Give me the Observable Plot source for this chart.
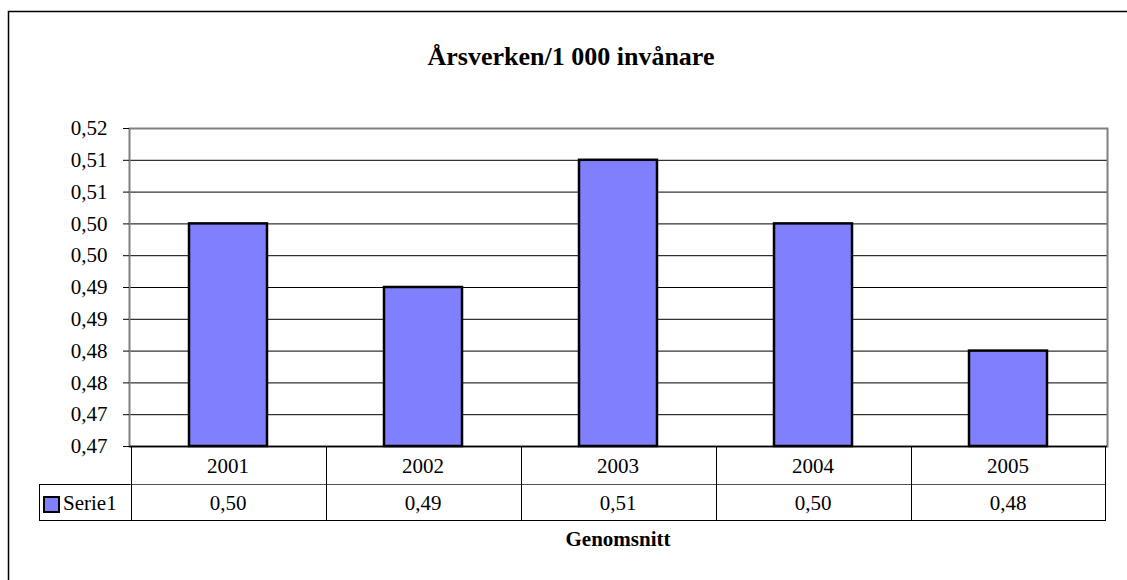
<!DOCTYPE html>
<html>
<head>
<meta charset="utf-8">
<script src="https://cdn.jsdelivr.net/npm/d3@7"></script>
<script src="https://cdn.jsdelivr.net/npm/@observablehq/plot@0.6"></script>
<style>
  html, body { margin: 0; padding: 0; background: #fff; }
  svg { display: block; }
</style>
</head>
<body>
<div id="chart"></div>
<script>
const years = ["2001", "2002", "2003", "2004", "2005"];
const values = [0.505, 0.495, 0.515, 0.505, 0.485];
const tableLabels = ["0,50", "0,49", "0,51", "0,50", "0,48"];
const seriesName = "Serie1";
const yTicks = [0.47, 0.475, 0.48, 0.485, 0.49, 0.495, 0.50, 0.505, 0.51, 0.515, 0.52];
const yTickLabels = ["0,47", "0,47", "0,48", "0,48", "0,49", "0,49", "0,50", "0,50", "0,51", "0,51", "0,52"];
const title = "Årsverken/1 000 invånare";
const xTitle = "Genomsnitt";

const data = years.map((y, i) => ({year: y, value: values[i], label: tableLabels[i]}));
const FONT = "'Liberation Serif', 'Times New Roman', Times, serif";
const FS = 21;
const yMin = 0.47, yMax = 0.52;

const chart = Plot.plot({
  width: 1127,
  height: 580,
  marginLeft: 129,
  marginRight: 20,
  marginTop: 128,
  marginBottom: 134,
  style: {fontFamily: FONT, fontSize: FS + "px", color: "#000", background: "#fff"},
  x: {type: "band", domain: years, paddingInner: 0.6, paddingOuter: 0.3, axis: null},
  y: {domain: [yMin, yMax], axis: null},
  marks: [
    Plot.gridY(yTicks, {stroke: "#000", strokeOpacity: 1, strokeWidth: 1}),
    Plot.frame({stroke: "#808080", strokeWidth: 2}),
    Plot.axisY(yTicks, {
      tickFormat: (d, i) => yTickLabels[i],
      tickSize: 6,
      tickPadding: 16,
      fontSize: FS,
      fontFamily: FONT,
      stroke: "#000",
      label: null
    }),
    Plot.barY(data, {x: "year", y1: yMin, y2: "value", fill: "#8080FF", stroke: "#000", strokeWidth: 2.5}),
    Plot.ruleY([yMin], {stroke: "#000", strokeWidth: 1.5})
  ]
});

document.getElementById("chart").appendChild(chart);

const svg = d3.select(chart);
const xs = chart.scale("x");
const ys = chart.scale("y");
const step = xs.step, bw = xs.bandwidth;
const colLeft = d => xs.apply(d) - (step - bw) / 2;
const left = colLeft(years[0]);
const right = colLeft(years[years.length - 1]) + step;
const y0 = ys.apply(yMin);
const row1 = y0 + 38;
const row2 = row1 + 36;
const legendLeft = 39;

// outer border
svg.append("path")
  .attr("d", `M8.5,${580 + 5}V11.5H${1127 + 5}`)
  .attr("fill", "none").attr("stroke", "#000").attr("stroke-width", 1.5);

// title
svg.append("text")
  .attr("x", 571).attr("y", 65)
  .attr("text-anchor", "middle")
  .attr("font-family", FONT).attr("font-weight", "bold").attr("font-size", 26)
  .attr("fill", "#000")
  .text(title);

// data table
const g = svg.append("g").attr("stroke", "#000").attr("stroke-width", 1);
g.append("line").attr("x1", left).attr("x2", right).attr("y1", row1 + 0.5).attr("y2", row1 + 0.5).attr("stroke", "#555");
g.append("line").attr("x1", legendLeft).attr("x2", left).attr("y1", row1 + 0.5).attr("y2", row1 + 0.5);
g.append("line").attr("x1", legendLeft).attr("x2", right).attr("y1", row2 + 0.5).attr("y2", row2 + 0.5);
g.append("line").attr("x1", legendLeft + 0.5).attr("x2", legendLeft + 0.5).attr("y1", row1).attr("y2", row2 + 1);
years.forEach(d => {
  const x = Math.round(colLeft(d)) + 0.5;
  g.append("line").attr("x1", x).attr("x2", x).attr("y1", y0).attr("y2", row2 + 1);
});
g.append("line").attr("x1", Math.round(right) - 0.5).attr("x2", Math.round(right) - 0.5).attr("y1", y0).attr("y2", row2 + 1);

const tg = svg.append("g").attr("font-family", FONT).attr("font-size", FS).attr("fill", "#000").attr("text-anchor", "middle");
data.forEach(d => {
  const cx = xs.apply(d.year) + bw / 2;
  tg.append("text").attr("x", cx).attr("y", y0 + 27).text(d.year);
  tg.append("text").attr("x", cx).attr("y", row1 + 26).text(d.label);
});

// legend
svg.append("rect")
  .attr("x", 44).attr("y", row1 + 13).attr("width", 15).attr("height", 15)
  .attr("fill", "#8080FF").attr("stroke", "#000").attr("stroke-width", 2);
svg.append("text")
  .attr("x", 63).attr("y", row1 + 26)
  .attr("text-anchor", "start")
  .attr("font-family", FONT).attr("font-size", FS).attr("fill", "#000")
  .text(seriesName);

// x title
svg.append("text")
  .attr("x", (left + right) / 2).attr("y", row2 + 26)
  .attr("text-anchor", "middle")
  .attr("font-family", FONT).attr("font-weight", "bold").attr("font-size", FS)
  .attr("fill", "#000")
  .text(xTitle);
</script>
</body>
</html>
